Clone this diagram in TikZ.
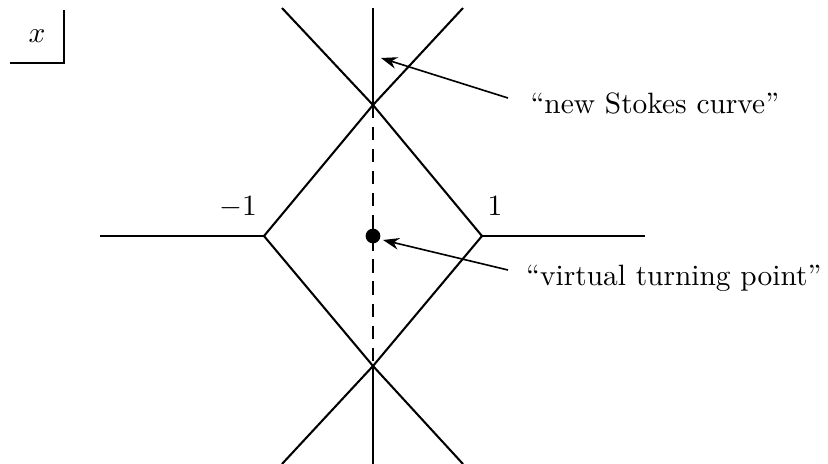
\documentclass[tikz,border=0pt]{standalone}
\usetikzlibrary{arrows.meta}
\begin{document}
\begin{tikzpicture}[x=0.34pt,y=-0.34pt,
  curve/.style={line width=0.7pt},
  lbl/.style={inner sep=0pt,font=\fontsize{10}{12}\selectfont},
  pointer/.style={line width=0.55pt,-{Stealth[length=5.5pt,width=4pt]}}]
\useasboundingbox (0,0) rectangle (828,464);
% coordinates
\coordinate (tl) at (264,236);
\coordinate (tr) at (482,236);
\coordinate (ct) at (373,105);
\coordinate (cb) at (373,366);
\coordinate (L) at (100,236);
\coordinate (R) at (645,236);
\coordinate (vt) at (373,8);
\coordinate (vb) at (373,464);
\coordinate (ul) at (282,8);
\coordinate (ur) at (463,8);
\coordinate (bl) at (282,464);
\coordinate (br) at (463,464);
% x box
\coordinate (bxa) at (10,63);
\coordinate (bxc) at (64,63);
\coordinate (bxb) at (64,10);
\draw[line width=0.55pt] (bxa) -- (bxc) -- (bxb);
\node[lbl] (xl) at (37,36) {$x$};
% curves
\draw[curve] (L) -- (tl);
\draw[curve] (tr) -- (R);
\draw[curve] (tl) -- (ct) -- (ur);
\draw[curve] (tr) -- (ct) -- (ul);
\draw[curve] (tl) -- (cb) -- (br);
\draw[curve] (tr) -- (cb) -- (bl);
\draw[curve] (vt) -- (ct);
\draw[curve] (cb) -- (vb);
\draw[curve,dashed,dash pattern=on 4.5pt off 3pt] (ct) -- (cb);
% dot
\node[circle,fill=black,inner sep=0pt,minimum size=5pt] (vtp) at (373,236) {};
% labels
\node[lbl] (m1) at (238,207) {$-1$};
\node[lbl] (p1) at (495,206) {$1$};
\node[lbl,anchor=west] (nsc) at (530,103) {``new Stokes curve''};
\node[lbl,anchor=east] (vtpl) at (822,278) {``virtual turning point''};
\coordinate (a1s) at (508,98);
\coordinate (a1e) at (381,58);
\coordinate (a2s) at (508,270);
\coordinate (a2e) at (383,240);
\draw[pointer] (a1s) -- (a1e);
\draw[pointer] (a2s) -- (a2e);
\end{tikzpicture}
\end{document}
